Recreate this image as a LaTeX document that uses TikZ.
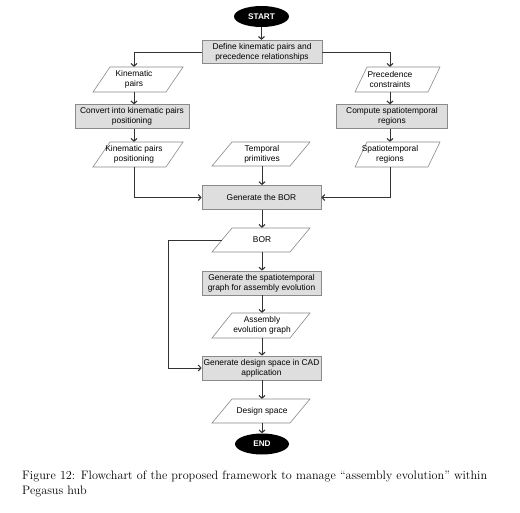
\documentclass[tikz,border=0pt]{standalone}
\usepackage{fontspec}
\newfontfamily\arial{Liberation Sans}
\usetikzlibrary{shapes.geometric,arrows.meta,calc}
\definecolor{boxfill}{HTML}{DEDEDE}
\definecolor{boxedge}{HTML}{8A8A8A}
\definecolor{linecol}{HTML}{333333}
\tikzset{
  lbl/.style={font=\arial\fontsize{8.4}{9.9}\selectfont, align=center, inner sep=0pt},
  proc/.style={lbl, draw=boxedge, fill=boxfill, line width=0.8pt, minimum height=23.5pt},
  iotext/.style={lbl, minimum width=60pt},
  iobox/.style={draw=boxedge, fill=white, line width=0.6pt},
  term/.style={ellipse, fill=black, text=white, inner sep=0pt,
    font=\arial\bfseries\fontsize{8.2}{9}\selectfont, minimum width=55pt, minimum height=21pt},
  arr/.style={line width=0.6pt, draw=linecol, -{Straight Barb[length=2.6pt,width=6pt,line width=1.1pt]}},
  ln/.style={line width=0.6pt, draw=linecol},
  captext/.style={font=\rmfamily\fontsize{12.2}{14}\selectfont, inner sep=0pt, anchor=base west},
}
% #1 name, #2 x, #3 y, #4 text, #5 dx, #6 halfw, #7 slant, #8 halfh
\newcommand\iopara[8]{%
  \draw[iobox] ({#2+#5-#6},{#3+#8}) -- ({#2+#5-#6+#7},{#3-#8}) -- ({#2+#5+#6},{#3-#8}) -- ({#2+#5+#6-#7},{#3+#8}) -- cycle;
  \node[iotext, minimum height={(2*#8)*1pt}] (#1) at (#2,#3) {#4};}
\begin{document}
\begin{tikzpicture}[x=1pt,y=-1pt]
\useasboundingbox (0,0) rectangle (520,512);
\fill[white] (0,0) rectangle (520,512);

\node[term] (start) at (261.5,16.5) {START};
\node[proc, minimum width=120pt] (define) at (262,52) {Define kinematic pairs and\\precedence relationships};

\iopara{kp}{134}{79.5}{Kinematic\\pairs}{4}{45}{17}{12.5}
\iopara{pc}{390}{79.5}{Precedence\\constraints}{7.5}{42.5}{12}{12.5}

\node[proc, minimum width=114pt] (conv) at (132,116.5) {Convert into kinematic pairs\\positioning};
\node[proc, minimum width=111pt] (comp) at (392,116.5) {Compute spatiotemporal\\regions};

\iopara{kpp}{134}{154.5}{Kinematic pairs\\positioning}{4}{45}{17}{12.5}
\iopara{tp}{262}{154}{Temporal\\primitives}{-1}{49}{20}{12}
\iopara{sr}{390}{154.5}{Spatiotemporal\\regions}{7.5}{42.5}{12}{12.5}

\node[proc, minimum width=119pt, minimum height=24pt] (genbor) at (261.5,197.5) {Generate the BOR};
\iopara{bor}{262}{240}{BOR}{-1}{49}{20}{12}
\node[proc, minimum width=119pt, minimum height=24pt] (gst) at (261.5,283) {Generate the spatiotemporal\\graph for assembly evolution};
\iopara{aeg}{262}{325.5}{Assembly\\evolution graph}{-1}{49}{20}{12.5}
\node[proc, minimum width=119pt, minimum height=24pt] (gds) at (261.5,368) {Generate design space in CAD\\application};
\iopara{ds}{262}{411}{Design space}{-1}{49}{20}{12}
\node[term, minimum width=54pt] (end) at (262,444) {END};

% connectors
\draw[arr] (start.south) -- (start.south |- define.north);
\draw[arr] (define.west) -| (kp.north);
\draw[arr] (define.east) -| (pc.north);
\draw[arr] (kp.south) -- (kp.south |- conv.north);
\draw[arr] (pc.south) -- (pc.south |- comp.north);
\draw[arr] (kpp.north |- conv.south) -- (kpp.north);
\draw[arr] (sr.north |- comp.south) -- (sr.north);
\draw[arr] (kpp.south) |- (genbor.west);
\draw[arr] (sr.south) |- (genbor.east);
\draw[arr] (tp.south) -- (tp.south |- genbor.north);
\draw[arr] (bor.north |- genbor.south) -- (bor.north);
\draw[arr] (bor.south) -- (bor.south |- gst.north);
\draw[arr] (aeg.north |- gst.south) -- (aeg.north);
\draw[arr] (aeg.south) -- (aeg.south |- gds.north);
\draw[arr] (ds.north |- gds.south) -- (ds.north);
\draw[arr] (ds.south) -- (ds.south |- end.north);
\coordinate (borl) at ($(bor.center)+(-40,0)$);
\coordinate (loopx) at (168,240);
\draw[arr] (borl) -- (loopx) |- (gds.west);

% caption
\node[captext] (cap1) at (22,479.5) {\makebox[465pt][s]{Figure 12: Flowchart of the proposed framework to manage ``assembly evolution'' within}};
\node[captext] (cap2) at (22,494.5) {Pegasus hub};
\end{tikzpicture}
\end{document}
